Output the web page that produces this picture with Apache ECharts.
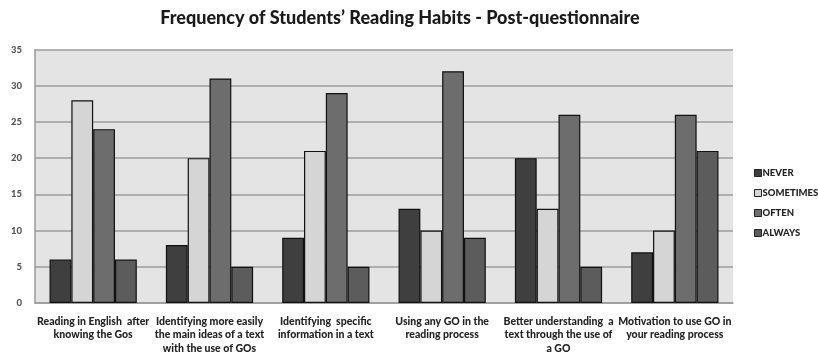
<!DOCTYPE html>
<html>
<head>
<meta charset="utf-8">
<script src="https://cdn.jsdelivr.net/npm/echarts@6/dist/echarts.min.js"></script>
<style>
  html, body { margin: 0; padding: 0; background: #ffffff; }
  #chart { width: 818px; height: 355px; }
</style>
</head>
<body>
<div id="chart"></div>
<script>
// Survey items (x-axis categories)
const categories = [
  'Reading in English  after\nknowing the Gos',
  'Identifying more easily\nthe main ideas of a text\nwith the use of GOs',
  'Identifying  specific\ninformation in a text',
  'Using any GO in the\nreading process',
  'Better understanding  a\ntext through the use of\na GO',
  'Motivation to use GO in\nyour reading process'
];

// Response frequencies per answer option
const never     = [6, 8, 9, 13, 20, 7];
const sometimes = [28, 20, 21, 10, 13, 10];
const often     = [24, 31, 29, 32, 26, 26];
const always    = [6, 5, 5, 9, 5, 21];

const seriesNames = ['NEVER', 'SOMETIMES', 'OFTEN', 'ALWAYS'];
const seriesData = [never, sometimes, often, always];
const seriesColors = ['#3f3f3f', '#d5d5d5', '#6d6d6d', '#5c5c5c'];

const yTicks = [0, 5, 10, 15, 20, 25, 30, 35];

const FONT = 'Lato';

const chart = echarts.init(document.getElementById('chart'), null, { renderer: 'canvas' });

chart.setOption({
  animation: false,
  backgroundColor: '#ffffff',
  title: {
    text: 'Frequency of Students\u2019 Reading Habits - Post-questionnaire',
    left: 395,
    textAlign: 'center',
    top: 4,
    textStyle: { fontFamily: FONT, fontWeight: 900, fontSize: 18, color: '#1a1a1a' }
  },
  legend: {
    orient: 'vertical',
    left: 749,
    top: 163,
    itemWidth: 7,
    itemHeight: 7,
    itemGap: 10,
    icon: 'rect',
    textStyle: { fontFamily: FONT, fontWeight: 900, fontSize: 9.5, color: '#222', padding: [0, 0, 0, -4] },
    data: seriesNames.map((n, i) => ({
      name: n,
      itemStyle: { color: seriesColors[i], borderColor: '#222', borderWidth: 1 }
    }))
  },
  grid: {
    left: 35,
    right: 85,
    top: 49.5,
    bottom: 52,
    show: true,
    backgroundColor: '#e4e4e4',
    borderWidth: 0
  },
  xAxis: {
    type: 'category',
    data: categories,
    axisLine: { show: true, lineStyle: { color: '#9a9a9a', width: 1.5 } },
    axisTick: { show: false },
    axisLabel: {
      interval: 0,
      margin: 12,
      lineHeight: 13.3,
      fontFamily: FONT,
      fontWeight: 900,
      fontSize: 10.5,
      color: '#222'
    }
  },
  yAxis: {
    type: 'value',
    min: 0,
    max: 35,
    interval: 5,
    axisLine: { show: true, lineStyle: { color: '#9a9a9a', width: 1.5 } },
    axisTick: { show: false },
    axisLabel: {
      margin: 13,
      fontFamily: FONT,
      fontWeight: 900,
      fontSize: 9.5,
      color: '#555',
      formatter: v => (yTicks.includes(v) ? String(v) : '')
    },
    splitLine: { show: true, lineStyle: { color: '#9c9c9c', width: 1.5 } }
  },
  series: seriesNames.map((name, i) => ({
    name,
    type: 'bar',
    data: seriesData[i],
    barGap: '0%',
    barCategoryGap: '25%',
    itemStyle: { color: seriesColors[i], borderColor: '#111', borderWidth: 1.2 }
  }))
});
</script>
</body>
</html>
